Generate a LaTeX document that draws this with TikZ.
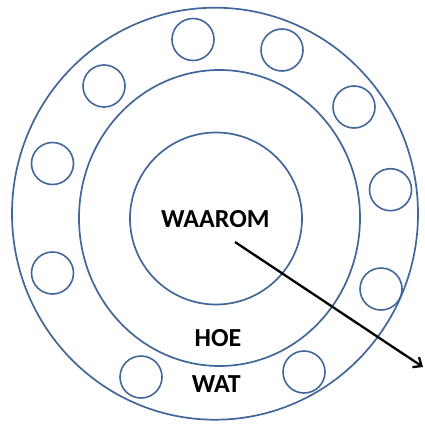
\documentclass[tikz,border=0pt]{standalone}
\usepackage{fontspec}
\setmainfont{Carlito}
\usetikzlibrary{arrows.meta}
\definecolor{ringblue}{HTML}{41669A}
\begin{document}
\begin{tikzpicture}[x=1pt,y=-1pt,
  ring/.style={draw=ringblue,line width=1.7pt},
  hole/.style={circle,draw=ringblue,line width=1.6pt,minimum size=42pt,inner sep=0pt},
  lbl/.style={inner sep=0pt,font=\bfseries\fontsize{26}{26}\selectfont,text=black},
  pointer/.style={draw=black,line width=2.3pt,-{Straight Barb[length=7pt,width=12pt,line width=2.3pt]}}]
\useasboundingbox (0,0) rectangle (425,423);
\draw[ring] (215,213.7) ellipse [x radius=203, y radius=206];
\draw[ring] (219.5,218) ellipse [x radius=140.5, y radius=148];
\draw[ring] (216,218.5) circle [radius=86];
\node[hole] (h1) at (193,39.5) {};
\node[hole] (h2) at (282,50) {};
\node[hole] (h3) at (104,86) {};
\node[hole] (h4) at (354,107) {};
\node[hole] (h5) at (52.5,163.5) {};
\node[hole] (h6) at (390.5,189.7) {};
\node[hole] (h7) at (52.5,273) {};
\node[hole] (h8) at (381,289) {};
\node[hole] (h9) at (141,377) {};
\node[hole] (h10) at (304,372) {};
\node[lbl] (waarom) at (215.3,218.8) {WAAROM};
\node[lbl] (hoe) at (218,338.3) {HOE};
\node[lbl] (wat) at (216.3,383.8) {WAT};
\coordinate (astart) at (235,242);
\coordinate (aend) at (423,367);
\draw[pointer] (astart) -- (aend);
\end{tikzpicture}
\end{document}
